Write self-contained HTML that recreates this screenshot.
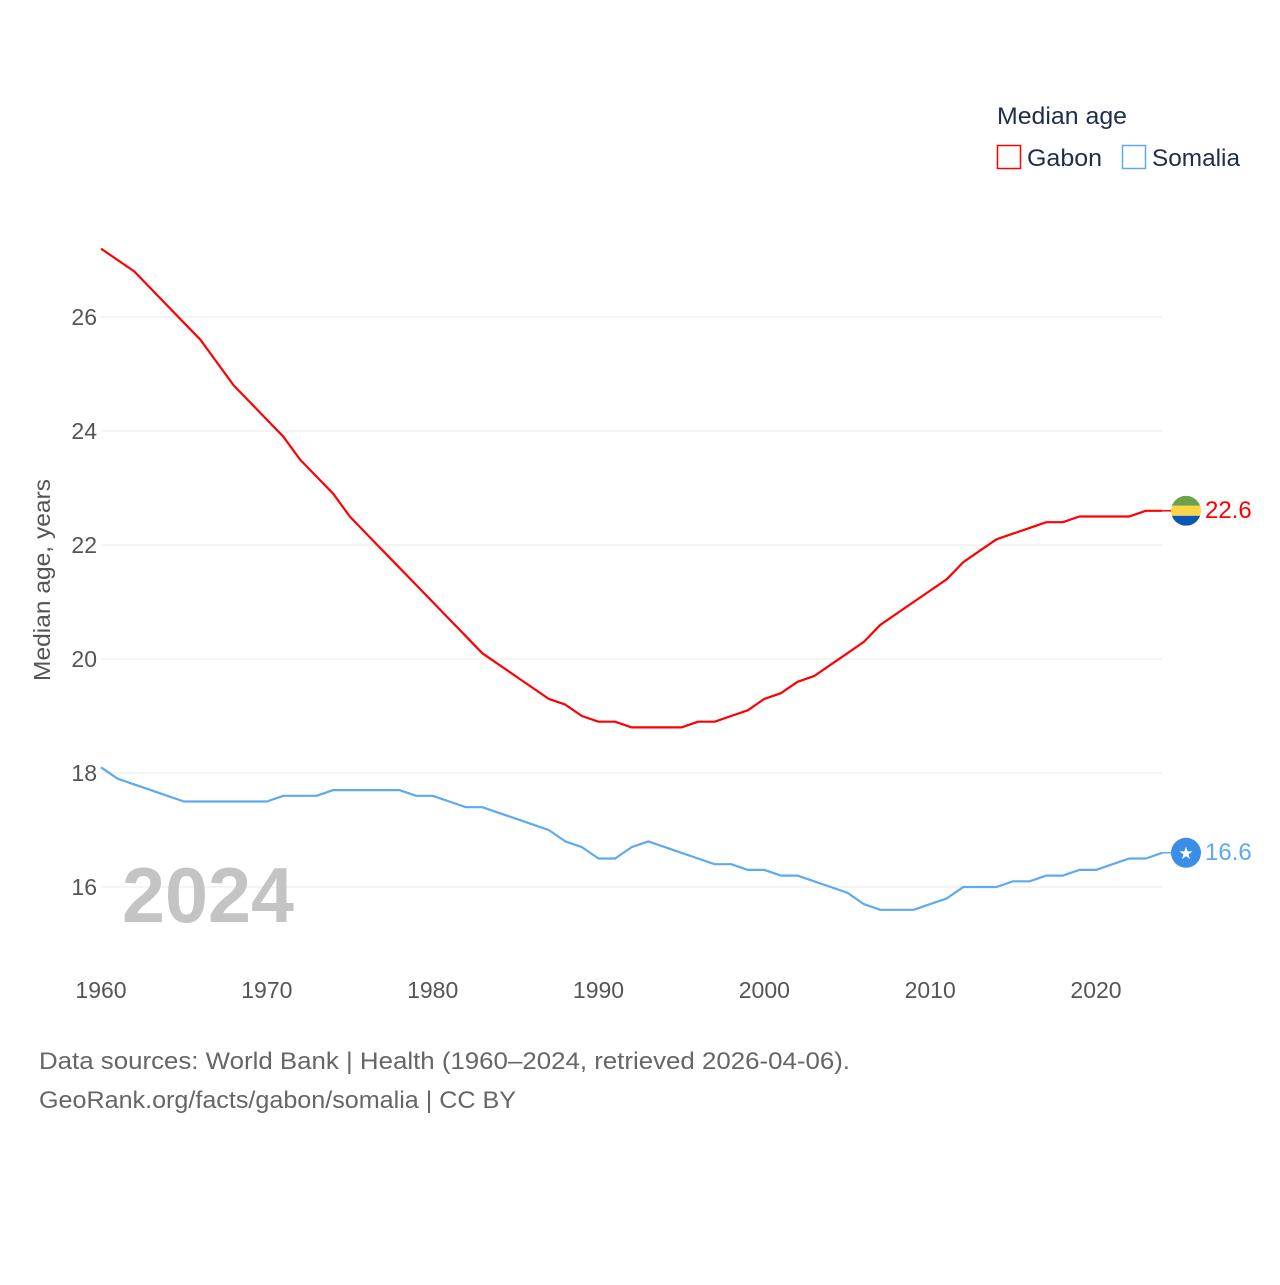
<!DOCTYPE html>
<html><head><meta charset="utf-8"><style>
body{margin:0;background:#fff;font-family:"Liberation Sans",sans-serif}
</style></head><body>
<svg id="chart" width="1280" height="1280" xmlns="http://www.w3.org/2000/svg" font-family="Liberation Sans, sans-serif">
<rect width="1280" height="1280" fill="#fff"/>
<g id="grid"></g>
<g id="yt"></g>
<g id="xt"></g>
<text transform="translate(50,580) rotate(-90)" text-anchor="middle" font-size="23" fill="#555" textLength="202" lengthAdjust="spacingAndGlyphs">Median age, years</text>
<text x="122" y="922" font-size="78" font-weight="bold" fill="#c4c4c4" textLength="172" lengthAdjust="spacingAndGlyphs">2024</text>
<g id="lines"></g>
<g>
<text x="997" y="124" font-size="24" fill="#1f2d4d" textLength="130" lengthAdjust="spacingAndGlyphs">Median age</text>
<g><rect x="997.5" y="145.5" width="23" height="23" fill="none" stroke="#ff0000" stroke-width="1.5"/><text x="1027" y="166" font-size="24" fill="#1f2d4d" textLength="75" lengthAdjust="spacingAndGlyphs">Gabon</text></g>
<g><rect x="1122.5" y="145.5" width="23" height="23" fill="none" stroke="#5ea9f0" stroke-width="1.5"/><text x="1152" y="166" font-size="24" fill="#1f2d4d" textLength="88" lengthAdjust="spacingAndGlyphs">Somalia</text></g>
</g>
<g id="ends"></g>
<text x="39" y="1069" font-size="24" fill="#666" textLength="811" lengthAdjust="spacingAndGlyphs">Data sources: World Bank | Health (1960–2024, retrieved 2026-04-06).</text>
<text x="39" y="1108" font-size="24" fill="#666" textLength="477" lengthAdjust="spacingAndGlyphs">GeoRank.org/facts/gabon/somalia | CC BY</text>
</svg>
<script>
const years=[];for(let y=1960;y<=2024;y++)years.push(y);
const gabon=[27.2,27.0,26.8,26.5,26.2,25.9,25.6,25.2,24.8,24.5,24.2,23.9,23.5,23.2,22.9,22.5,22.2,21.9,21.6,21.3,21.0,20.7,20.4,20.1,19.9,19.7,19.5,19.3,19.2,19.0,18.9,18.9,18.8,18.8,18.8,18.8,18.9,18.9,19.0,19.1,19.3,19.4,19.6,19.7,19.9,20.1,20.3,20.6,20.8,21.0,21.2,21.4,21.7,21.9,22.1,22.2,22.3,22.4,22.4,22.5,22.5,22.5,22.5,22.6,22.6];
const somalia=[18.1,17.9,17.8,17.7,17.6,17.5,17.5,17.5,17.5,17.5,17.5,17.6,17.6,17.6,17.7,17.7,17.7,17.7,17.7,17.6,17.6,17.5,17.4,17.4,17.3,17.2,17.1,17.0,16.8,16.7,16.5,16.5,16.7,16.8,16.7,16.6,16.5,16.4,16.4,16.3,16.3,16.2,16.2,16.1,16.0,15.9,15.7,15.6,15.6,15.6,15.7,15.8,16.0,16.0,16.0,16.1,16.1,16.2,16.2,16.3,16.3,16.4,16.5,16.5,16.6];
const yTicks=[16,18,20,22,24,26];
const xTicks=[1960,1970,1980,1990,2000,2010,2020];
const NS="http://www.w3.org/2000/svg";
const X=v=>101+(v-1960)*(1096-101)/60;
const Y=v=>887-(v-16)*57;
function mk(tag,attrs,parent,txt){const e=document.createElementNS(NS,tag);for(const k in attrs)e.setAttribute(k,attrs[k]);if(txt!==undefined)e.textContent=txt;document.getElementById(parent).appendChild(e);return e;}
yTicks.forEach(t=>{
 const l=mk('line',{x1:101,x2:1162,y1:Y(t),y2:Y(t),stroke:'#e8e8e8','stroke-width':1},'grid');
 
 
 const tx=mk('text',{x:97,y:Y(t)+8,'text-anchor':'end','font-size':23,fill:'#555'},'yt',String(t));
 
 
});
xTicks.forEach(t=>{
 const tx=mk('text',{x:X(t),y:998,'text-anchor':'middle','font-size':23,fill:'#555'},'xt',String(t));
 
 
});
function line(vals,color,name){
 const d=vals.map((v,i)=>(i?'L':'M')+X(years[i]).toFixed(1)+','+Y(v).toFixed(1)).join('');
 const p=mk('path',{d:d,fill:'none',stroke:color,'stroke-width':2.2,'stroke-linejoin':'round'},'lines');
 
 
 const lv=vals[vals.length-1],ly=Y(lv),lx=X(years[years.length-1]);
 const c=mk('line',{x1:lx,x2:1172,y1:ly,y2:ly,stroke:color,'stroke-width':1.5},'ends');
 
 
 const t=mk('text',{x:1205,y:ly+7,'font-size':24,fill:color},'ends',lv.toFixed(1));
 
 
 return ly;
}
const gy=line(gabon,'#ff0000','gabon-line');
const sy=line(somalia,'#5ea9f0','somalia-line');
const cx=1186,r=15;
let g=document.createElementNS(NS,'g');document.getElementById('ends').appendChild(g);


g.innerHTML=`<defs><clipPath id="gc"><circle cx="${cx}" cy="${gy}" r="${r}"/></clipPath></defs><g clip-path="url(#gc)"><rect x="${cx-r}" y="${gy-r}" width="30" height="10" fill="#6aa34a"/><rect x="${cx-r}" y="${gy-5}" width="30" height="10" fill="#fcd549"/><rect x="${cx-r}" y="${gy+5}" width="30" height="10" fill="#0a56b4"/></g>`;
let s=document.createElementNS(NS,'g');document.getElementById('ends').appendChild(s);


s.innerHTML=`<circle cx="${cx}" cy="${sy}" r="${r}" fill="#3a8ee8"/><text x="${cx}" y="${sy+6}" text-anchor="middle" font-size="17" fill="#fff" font-family="DejaVu Sans">★</text>`;
</script>
</body></html>
